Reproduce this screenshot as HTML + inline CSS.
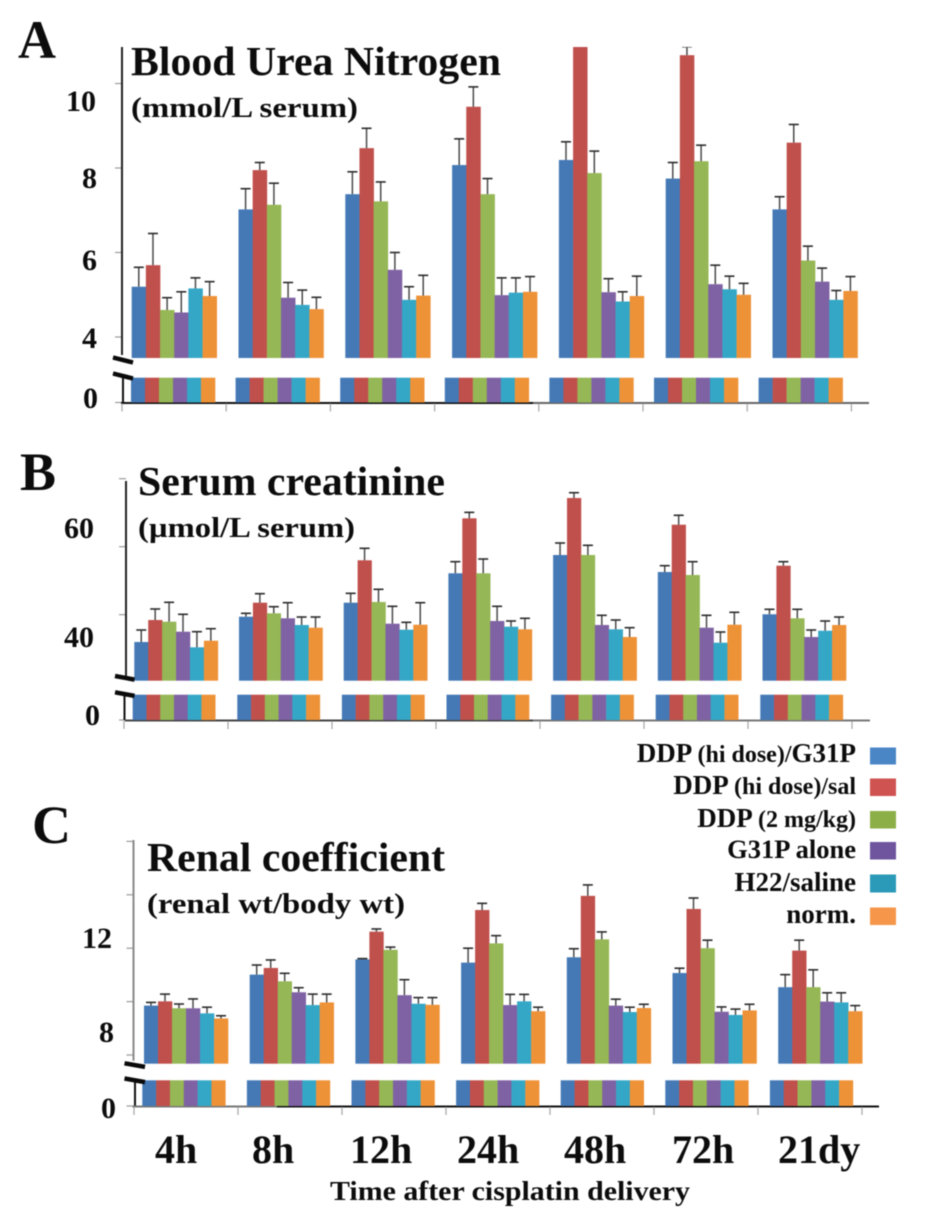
<!DOCTYPE html>
<html lang="en">
<head>
<meta charset="utf-8">
<title>Renal function after cisplatin delivery</title>
<style>
html,body{margin:0;padding:0;background:#fff;}
body{width:945px;height:1216px;overflow:hidden;}
svg{display:block;filter:blur(0.55px);}
text{font-family:"Liberation Serif","DejaVu Serif",serif;font-weight:bold;fill:#0c0c0c;}
.panel-letter{font-size:54px;}
.title{font-size:41px;}
.sub{font-size:29px;}
.tick{font-size:30px;}
.cat{font-size:40px;}
.xtitle{font-size:27px;}
.leg{font-size:27px;text-anchor:end;}
.leg tspan.s{font-size:24px;}
</style>
</head>
<body>
<svg id="figure" xmlns="http://www.w3.org/2000/svg" width="945" height="1216" viewBox="0 0 945 1216">
  <defs>
    <clipPath id="clip-a"><rect x="100" y="47" width="800" height="400"/></clipPath>
  </defs>

  <g id="panel-a" clip-path="url(#clip-a)"></g>
  <g id="panel-b"></g>
  <g id="panel-c"></g>

  <text class="panel-letter" x="18" y="58" textLength="38" lengthAdjust="spacingAndGlyphs">A</text>
  <text class="title" x="131" y="75" textLength="370" lengthAdjust="spacingAndGlyphs">Blood Urea Nitrogen</text>
  <text class="sub" x="131" y="117" textLength="227" lengthAdjust="spacingAndGlyphs">(mmol/L serum)</text>
  <text class="tick" x="66" y="111">10</text>
  <text class="tick" x="82" y="188">8</text>
  <text class="tick" x="82" y="270">6</text>
  <text class="tick" x="82" y="348">4</text>
  <text class="tick" x="83" y="408">0</text>

  <text class="panel-letter" x="20" y="490">B</text>
  <text class="title" x="138" y="495" textLength="307" lengthAdjust="spacingAndGlyphs">Serum creatinine</text>
  <text class="sub" x="138" y="537" textLength="217" lengthAdjust="spacingAndGlyphs">(µmol/L serum)</text>
  <text class="tick" x="64" y="538">60</text>
  <text class="tick" x="64" y="647">40</text>
  <text class="tick" x="85" y="725">0</text>

  <g>
    <text class="leg" x="856" y="762">DDP <tspan class="s">(hi dose)/</tspan>G31P</text>
    <text class="leg" x="856" y="794">DDP <tspan class="s">(hi dose)/sal</tspan></text>
    <text class="leg" x="856" y="827">DDP <tspan class="s">(2 mg/kg)</tspan></text>
    <text class="leg" x="856" y="858" style="font-size:26.5px">G31P alone</text>
    <text class="leg" x="856" y="891">H22/saline</text>
    <text class="leg" x="856" y="923">norm.</text>
    <rect x="870" y="747.5" width="26" height="17" fill="#4a86c5"/>
    <rect x="870" y="778.5" width="26" height="17.5" fill="#cf5350"/>
    <rect x="870" y="811" width="26" height="17.5" fill="#8caf47"/>
    <rect x="870" y="842" width="26" height="17.5" fill="#6e559e"/>
    <rect x="870" y="874.5" width="26" height="18" fill="#2a9ab8"/>
    <rect x="870" y="907.5" width="26" height="17.5" fill="#f5964a"/>
  </g>

  <text class="panel-letter" x="32" y="843">C</text>
  <text class="title" x="147" y="871" textLength="298" lengthAdjust="spacingAndGlyphs">Renal coefficient</text>
  <text class="sub" x="147" y="913" textLength="258" lengthAdjust="spacingAndGlyphs">(renal wt/body wt)</text>
  <text class="tick" x="82" y="948">12</text>
  <text class="tick" x="99" y="1042">8</text>
  <text class="tick" x="101" y="1118">0</text>

  <text class="cat" x="155" y="1163">4h</text>
  <text class="cat" x="252" y="1163">8h</text>
  <text class="cat" x="350" y="1163">12h</text>
  <text class="cat" x="457" y="1163">24h</text>
  <text class="cat" x="564" y="1163">48h</text>
  <text class="cat" x="672" y="1163">72h</text>
  <text class="cat" x="778" y="1163">21dy</text>
  <text class="xtitle" x="330" y="1200" textLength="360" lengthAdjust="spacingAndGlyphs">Time after cisplatin delivery</text>
</svg>

<script>
const categories = ['4h', '8h', '12h', '24h', '48h', '72h', '21dy'];
const seriesNames = ['hi-dose-g31p', 'hi-dose-saline', 'ddp-2-mg-kg', 'g31p-alone', 'h22-saline', 'normal'];
const seriesColors = ['#4479b6', '#c0504c', '#96b755', '#7f62a4', '#35a7c6', '#ee9238'];

const bunTicks = [4, 6, 8, 10];
const bunMeans = [
  [5.19, 5.70, 4.64, 4.58, 5.15, 4.97],
  [7.02, 7.95, 7.13, 4.93, 4.76, 4.66],
  [7.38, 8.47, 7.21, 5.59, 4.88, 4.98],
  [8.07, 9.45, 7.38, 4.99, 5.05, 5.07],
  [8.19, 11.0, 7.88, 5.06, 4.84, 4.97],
  [7.75, 10.67, 8.16, 5.25, 5.13, 5.00],
  [7.02, 8.60, 5.81, 5.31, 4.88, 5.09]
];
const bunUpper = [
  [5.65, 6.45, 4.93, 5.07, 5.40, 5.31],
  [7.51, 8.13, 7.64, 5.29, 5.11, 4.94],
  [7.91, 8.94, 7.67, 6.00, 5.19, 5.46],
  [8.69, 9.92, 7.75, 5.40, 5.40, 5.43],
  [8.62, 11.4, 8.40, 5.38, 5.07, 5.44],
  [8.13, 10.87, 8.54, 5.70, 5.44, 5.27],
  [7.32, 9.03, 6.15, 5.63, 5.10, 5.43]
];

const creTicks = [40, 60, 80];
const creMeans = [
  [31.97, 38.44, 37.94, 35.00, 30.41, 32.35],
  [39.41, 43.53, 40.41, 38.94, 36.97, 36.18],
  [43.53, 56.00, 43.74, 37.35, 35.59, 37.06],
  [52.18, 68.35, 52.18, 38.15, 36.47, 35.70],
  [57.56, 74.32, 57.56, 36.97, 35.70, 33.44],
  [52.56, 66.47, 51.68, 36.18, 31.76, 37.06],
  [40.12, 54.41, 38.94, 33.44, 35.29, 36.97]
];
const creUpper = [
  [35.50, 41.68, 43.65, 40.12, 35.00, 35.88],
  [40.41, 46.18, 42.35, 43.53, 39.32, 39.32],
  [46.29, 59.53, 47.47, 42.47, 37.76, 43.53],
  [55.59, 70.10, 56.38, 42.47, 38.15, 38.94],
  [61.09, 75.88, 60.41, 39.82, 38.44, 36.18],
  [54.41, 69.24, 55.59, 39.82, 34.91, 40.71],
  [41.59, 55.59, 41.59, 35.50, 38.15, 39.32]
];

const renalTicks = [8, 10, 12, 14, 16];
const renalMeans = [
  [9.85, 10.01, 9.75, 9.75, 9.56, 9.37],
  [11.01, 11.26, 10.76, 10.35, 9.87, 9.97],
  [11.58, 12.62, 11.94, 10.24, 9.92, 9.88],
  [11.46, 13.43, 12.18, 9.87, 10.01, 9.64],
  [11.66, 13.96, 12.33, 9.85, 9.61, 9.76],
  [11.07, 13.47, 12.00, 9.62, 9.50, 9.67],
  [10.54, 11.91, 10.54, 10.00, 9.97, 9.64]
];
const renalUpper = [
  [9.97, 10.28, 9.91, 10.10, 9.79, 9.47],
  [11.37, 11.56, 11.06, 10.52, 10.28, 10.28],
  [11.61, 12.72, 12.04, 10.82, 10.15, 10.15],
  [12.00, 13.68, 12.47, 10.27, 10.27, 9.79],
  [11.98, 14.37, 12.61, 10.09, 9.79, 9.90],
  [11.25, 13.88, 12.30, 9.80, 9.72, 9.90],
  [11.01, 12.30, 11.19, 10.33, 10.33, 9.85]
];

const NS = 'http://www.w3.org/2000/svg';

function make(parent, tag, props) {
  const node = document.createElementNS(NS, tag);
  for (const key in props) node.setAttribute(key, props[key]);
  parent.appendChild(node);
  return node;
}

function drawPanel(cfg) {
  const root = document.getElementById(cfg.id);
  const yScale = v => cfg.yRef - (v - cfg.vRef) * cfg.yPerUnit;
  const barW = cfg.groupW / seriesNames.length;

  cfg.ticks.forEach(t => {
    const tick = make(root, 'line', { x1: cfg.axisX - 7, x2: cfg.axisX, y1: yScale(t), y2: yScale(t), stroke: '#9a9a9a', 'stroke-width': 1.2 });
    
    
  });
  const zeroTick = make(root, 'line', { x1: cfg.axisX - 7, x2: cfg.axisX, y1: cfg.zeroY, y2: cfg.zeroY, stroke: '#9a9a9a', 'stroke-width': 1.2 });
  
  

  const upperAxis = make(root, 'line', { x1: cfg.axisX, x2: cfg.axisX, y1: cfg.axisTop, y2: cfg.baseY - 3, stroke: cfg.upperAxisColor, 'stroke-width': 2 });
  
  
  const lowerAxis = make(root, 'line', { x1: cfg.lowerAxisX, x2: cfg.lowerAxisX, y1: cfg.stubTop, y2: cfg.zeroY, stroke: '#111', 'stroke-width': 2 });
  
  

  const xAxisLeft = make(root, 'line', { x1: cfg.axisX - 1, x2: cfg.axisSplit, y1: cfg.zeroY + 0.5, y2: cfg.zeroY + 0.5, stroke: cfg.xAxisColorA, 'stroke-width': 2 });
  
  
  const xAxisRight = make(root, 'line', { x1: cfg.axisSplit, x2: cfg.axisEnd, y1: cfg.zeroY + 0.5, y2: cfg.zeroY + 0.5, stroke: cfg.xAxisColorB, 'stroke-width': 2 });
  
  

  for (let i = 0; i <= categories.length; i++) {
    const x = cfg.tickStart + i * cfg.tickStep;
    const xTick = make(root, 'line', { x1: x, x2: x, y1: cfg.zeroY + 1, y2: cfg.zeroY + 9, stroke: '#a5a5a5', 'stroke-width': 1.2 });
    
    
  }

  categories.forEach((cat, g) => {
    const group = make(root, 'g', {});
    
    

    seriesNames.forEach((name, s) => {
      const stubX = cfg.stubStart + g * cfg.stubStep + s * (cfg.groupW - 1) / seriesNames.length;
      const stub = make(group, 'rect', { x: stubX, y: cfg.stubTop, width: (cfg.groupW - 1) / seriesNames.length + 0.3, height: cfg.zeroY - cfg.stubTop, fill: seriesColors[s] });
      
      

      const x = cfg.barStart + g * cfg.barStep + s * barW;
      const top = yScale(cfg.means[g][s]);
      const bar = make(group, 'rect', { x: x, y: top, width: barW + 0.3, height: cfg.baseY - top, fill: seriesColors[s] });
      
      
    });

    seriesNames.forEach((name, s) => {
      const cx = cfg.barStart + g * cfg.barStep + (s + 0.5) * barW;
      const top = yScale(cfg.means[g][s]);
      const errTop = yScale(cfg.upper[g][s]);
      const stem = make(group, 'line', { x1: cx, x2: cx, y1: top, y2: errTop, stroke: '#4a4a4a', 'stroke-width': 1.5 });
      
      
      const cap = make(group, 'line', { x1: cx - 5, x2: cx + 5, y1: errTop, y2: errTop, stroke: '#2b2b2b', 'stroke-width': 1.6 });
      
      
    });
  });

  const breakTop = make(root, 'line', { x1: cfg.breakX1, x2: cfg.breakX2, y1: cfg.breakA, y2: cfg.breakA + cfg.breakDrop, stroke: '#0a0a0a', 'stroke-width': 4.5 });
  
  
  const breakBottom = make(root, 'line', { x1: cfg.breakX1, x2: cfg.breakX2, y1: cfg.breakB, y2: cfg.breakB + cfg.breakDrop, stroke: '#0a0a0a', 'stroke-width': 4.5 });
  
  
}

drawPanel({
  id: 'panel-a', means: bunMeans, upper: bunUpper, ticks: bunTicks,
  vRef: 4, yRef: 337, yPerUnit: 42.25,
  axisX: 122, lowerAxisX: 123, axisTop: 47, baseY: 358, stubTop: 377.7, zeroY: 402.5,
  upperAxisColor: '#222', xAxisColorA: '#111', xAxisColorB: '#666',
  axisSplit: 533, axisEnd: 869, tickStart: 122, tickStep: 104.2,
  barStart: 131.7, barStep: 106.8, groupW: 85,
  stubStart: 131, stubStep: 104.6,
  breakX1: 113, breakX2: 133, breakA: 357.5, breakB: 373.5, breakDrop: 5
});

drawPanel({
  id: 'panel-b', means: creMeans, upper: creUpper, ticks: creTicks,
  vRef: 40, yRef: 614.7, yPerUnit: 3.4,
  axisX: 126, lowerAxisX: 124.5, axisTop: 481, baseY: 680.7, stubTop: 694.7, zeroY: 720,
  upperAxisColor: '#222', xAxisColorA: '#444', xAxisColorB: '#777',
  axisSplit: 533, axisEnd: 870, tickStart: 124, tickStep: 104,
  barStart: 134.3, barStep: 104.7, groupW: 83.5,
  stubStart: 132.7, stubStep: 104.6,
  breakX1: 115, breakX2: 134.5, breakA: 676, breakB: 692.3, breakDrop: 3.6
});

drawPanel({
  id: 'panel-c', means: renalMeans, upper: renalUpper, ticks: renalTicks,
  vRef: 8, yRef: 1055, yPerUnit: 26.7,
  axisX: 133.5, lowerAxisX: 135, axisTop: 840, baseY: 1063.7, stubTop: 1080.3, zeroY: 1106,
  upperAxisColor: '#8a8a8a', xAxisColorA: '#777', xAxisColorB: '#111',
  axisSplit: 277, axisEnd: 879, tickStart: 134, tickStep: 104,
  barStart: 144, barStep: 105.7, groupW: 84,
  stubStart: 142.3, stubStep: 104.6,
  breakX1: 124.5, breakX2: 145, breakA: 1063.3, breakB: 1078.5, breakDrop: 3.6
});
</script>
</body>
</html>
